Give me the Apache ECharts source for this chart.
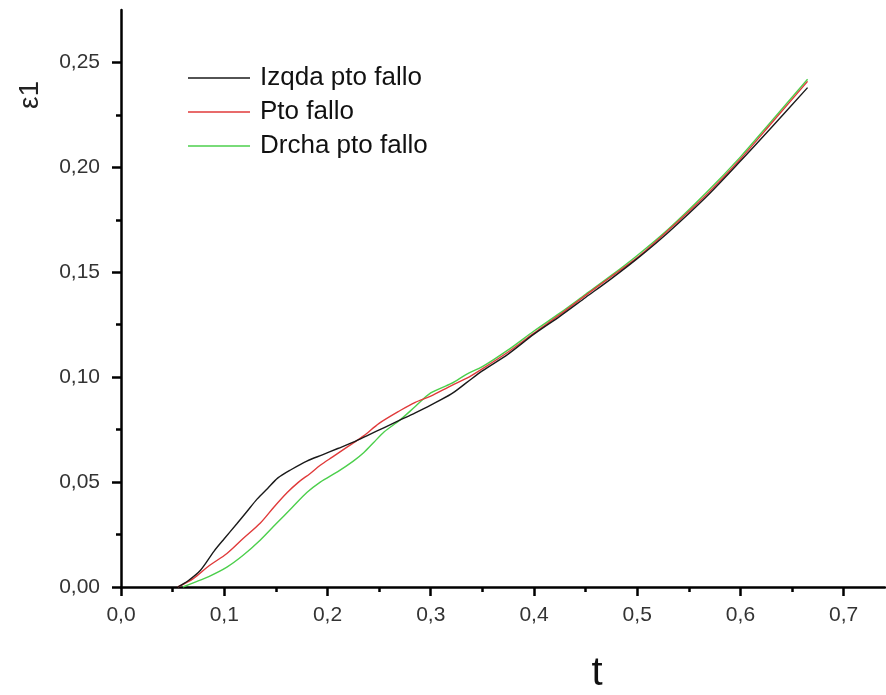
<!DOCTYPE html>
<html lang="es">
<head>
<meta charset="UTF-8">
<title>eps1 vs t</title>
<style>
  html, body { margin: 0; padding: 0; background: #fff; }
  #chart { width: 886px; height: 695px; }
</style>
<script src="https://cdn.jsdelivr.net/npm/echarts@6/dist/echarts.min.js"></script>
</head>
<body>
<div id="chart"></div>
<script>
// datos: [t, eps1]
var izqda = [
  [0.055, 0], [0.065, 0.003], [0.077, 0.008], [0.09, 0.017], [0.10, 0.023],
  [0.112, 0.030], [0.122, 0.036], [0.132, 0.042], [0.142, 0.047], [0.152, 0.052],
  [0.165, 0.056], [0.18, 0.060], [0.195, 0.063], [0.21, 0.066], [0.225, 0.069],
  [0.24, 0.0725], [0.255, 0.076], [0.27, 0.0795], [0.285, 0.083], [0.30, 0.0867],
  [0.32, 0.092], [0.335, 0.0975], [0.35, 0.103], [0.375, 0.111], [0.40, 0.1205],
  [0.425, 0.129], [0.45, 0.138], [0.475, 0.147], [0.50, 0.1565], [0.53, 0.169],
  [0.567, 0.186], [0.60, 0.203], [0.63, 0.219], [0.665, 0.238]
];
var pto = [
  [0.055, 0], [0.07, 0.004], [0.085, 0.010], [0.1026, 0.016], [0.118, 0.023],
  [0.135, 0.0305], [0.148, 0.038], [0.161, 0.045], [0.172, 0.050], [0.183, 0.054],
  [0.193, 0.058], [0.205, 0.062], [0.22, 0.067], [0.235, 0.072], [0.25, 0.078],
  [0.27, 0.084], [0.285, 0.088], [0.30, 0.091], [0.32, 0.096], [0.335, 0.0995],
  [0.35, 0.104], [0.375, 0.112], [0.40, 0.121], [0.425, 0.1298], [0.45, 0.139],
  [0.475, 0.148], [0.50, 0.157], [0.53, 0.170], [0.567, 0.187], [0.60, 0.204],
  [0.63, 0.221], [0.665, 0.241]
];
var drcha = [
  [0.06, 0], [0.07, 0.002], [0.085, 0.005], [0.1026, 0.0095], [0.118, 0.015],
  [0.135, 0.0224], [0.15, 0.030], [0.166, 0.038], [0.18, 0.045], [0.193, 0.050],
  [0.21, 0.055], [0.225, 0.060], [0.235, 0.064], [0.245, 0.069], [0.255, 0.074],
  [0.27, 0.0795], [0.285, 0.086], [0.30, 0.0925], [0.32, 0.097], [0.335, 0.1015],
  [0.35, 0.105], [0.375, 0.113], [0.40, 0.122], [0.425, 0.1305], [0.45, 0.1395],
  [0.475, 0.1485], [0.50, 0.158], [0.53, 0.1705], [0.567, 0.188], [0.60, 0.205],
  [0.63, 0.222], [0.665, 0.242]
];
var nombres = ['Izqda pto fallo', 'Pto fallo', 'Drcha pto fallo'];
var colores = ['#1a1a1a', '#e03a3a', '#4ccf4c'];

var xTicks = [0, 0.1, 0.2, 0.3, 0.4, 0.5, 0.6, 0.7];
var xMinor = [0.05, 0.15, 0.25, 0.35, 0.45, 0.55, 0.65];
var yTicks = [0, 0.05, 0.10, 0.15, 0.20, 0.25];
var yMinor = [0.025, 0.075, 0.125, 0.175, 0.225];

var chart = echarts.init(document.getElementById('chart'));
var fuente = 'Liberation Sans, Arial, sans-serif';
var coma = function (d) { return function (v) { return v.toFixed(d).replace('.', ','); }; };

var option = {
  animation: false,
  backgroundColor: '#fff',
  color: colores,
  grid: { left: 121, right: 1, top: 10, bottom: 108, containLabel: false },
  legend: {
    orient: 'vertical',
    left: 188,
    top: 65,
    padding: 0,
    icon: 'rect',
    itemWidth: 62,
    itemHeight: 1.4,
    itemGap: 8,
    textStyle: { fontFamily: fuente, fontSize: 26, lineHeight: 26, color: '#111', padding: [0, 0, 0, 5] },
    data: nombres
  },
  xAxis: [
    {
      type: 'value', min: 0, max: 0.74, interval: 0.1,
      axisLine: { onZero: false, lineStyle: { color: '#000', width: 2.5 } },
      axisTick: { customValues: xTicks, length: 9, inside: false, lineStyle: { color: '#000', width: 2.5 } },
      axisLabel: { customValues: xTicks, formatter: coma(1), fontFamily: fuente, fontSize: 21, color: '#333', margin: 18 },
      splitLine: { show: false }
    },
    {
      type: 'value', min: 0, max: 0.74, position: 'bottom',
      axisLine: { show: false },
      axisTick: { customValues: xMinor, length: 5, lineStyle: { color: '#000', width: 2.5 } },
      axisLabel: { show: false },
      splitLine: { show: false }
    }
  ],
  yAxis: [
    {
      type: 'value', min: 0, max: 0.275, interval: 0.05,
      axisLine: { show: true, onZero: false, lineStyle: { color: '#000', width: 2.5 } },
      axisTick: { show: true, customValues: yTicks, length: 9, lineStyle: { color: '#000', width: 2.5 } },
      axisLabel: { customValues: yTicks, formatter: coma(2), fontFamily: fuente, fontSize: 21, color: '#333', margin: 21 },
      splitLine: { show: false }
    },
    {
      type: 'value', min: 0, max: 0.275, position: 'left',
      axisLine: { show: false },
      axisTick: { show: true, customValues: yMinor, length: 5, lineStyle: { color: '#000', width: 2.5 } },
      axisLabel: { show: false },
      splitLine: { show: false }
    }
  ],
  graphic: [
    {
      type: 'text', x: 30, y: 95, rotation: Math.PI / 2,
      style: { text: 'ε1', fontFamily: fuente, fontSize: 28, fill: '#222', align: 'center', verticalAlign: 'middle' }
    },
    {
      type: 'text', x: 597, y: 674,
      style: { text: 't', fontFamily: fuente, fontSize: 40, fill: '#111', align: 'center', verticalAlign: 'middle' }
    }
  ],
  series: [izqda, pto, drcha].map(function (d, i) {
    return {
      name: nombres[i], type: 'line', data: d, smooth: 0.3,
      symbol: 'none', lineStyle: { width: 1.4, color: colores[i] }, z: 3 - i
    };
  })
};
chart.setOption(option);
</script>
</body>
</html>
